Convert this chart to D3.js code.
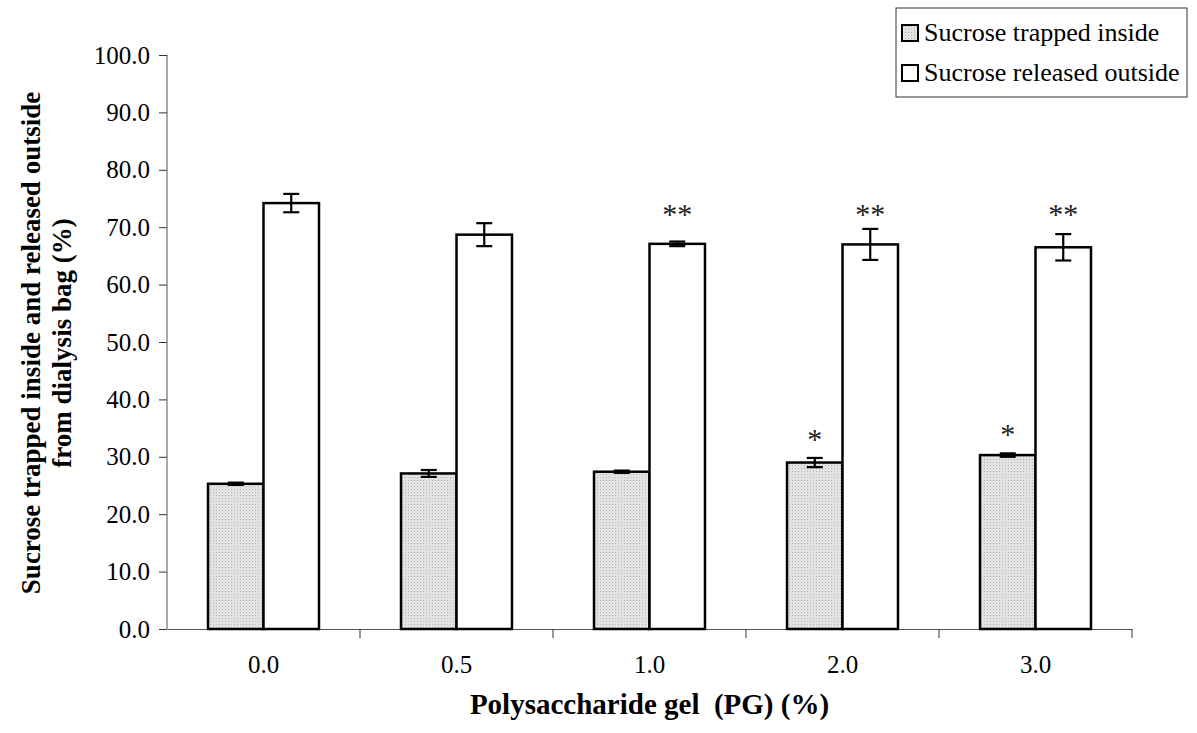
<!DOCTYPE html>
<html>
<head>
<meta charset="utf-8">
<script src="https://cdn.jsdelivr.net/npm/d3@7"></script>
<style>
  body { margin: 0; background: #fff; }
  text { font-family: "Liberation Serif", "Times New Roman", serif; fill: #000; }
</style>
</head>
<body>
<div class="chart"></div>
<script>
"use strict";

const categories = ["0.0", "0.5", "1.0", "2.0", "3.0"];
const seriesNames = ["Sucrose trapped inside", "Sucrose released outside"];
const trapped = [25.3, 27.1, 27.4, 29.0, 30.3];
const trappedErr = [0.2, 0.6, 0.2, 0.8, 0.3];
const released = [74.2, 68.7, 67.1, 67.0, 66.5];
const releasedErr = [1.6, 2.0, 0.4, 2.7, 2.3];
const trappedSig = ["", "", "", "*", "*"];
const releasedSig = ["", "", "**", "**", "**"];
const yTicks = [0, 10, 20, 30, 40, 50, 60, 70, 80, 90, 100];

const width = 1197;
const height = 733;
const margin = { top: 55, right: 65, bottom: 104, left: 167 };

const svg = d3
  .select(".chart")
  .append("svg")
  .attr("width", width)
  .attr("height", height);

// stippled grey fill
const pat = svg
  .append("defs")
  .append("pattern")
  .attr("id", "dots")
  .attr("width", 3)
  .attr("height", 3)
  .attr("patternUnits", "userSpaceOnUse");
pat.append("rect").attr("width", 3).attr("height", 3).attr("fill", "#e2e2e2");
pat.append("rect").attr("width", 1).attr("height", 1).attr("fill", "#b5b5b5");

const x = d3
  .scaleBand()
  .domain(categories)
  .range([margin.left, width - margin.right]);

const y = d3
  .scaleLinear()
  .domain([0, 100])
  .range([height - margin.bottom, margin.top]);

const barW = x.bandwidth() * 0.2875;

const rows = categories.map((c, i) => [
  { cat: c, s: 0, v: trapped[i], e: trappedErr[i], sig: trappedSig[i] },
  { cat: c, s: 1, v: released[i], e: releasedErr[i], sig: releasedSig[i] },
]).flat();

const barX = (d) => x(d.cat) + x.bandwidth() / 2 - barW + d.s * barW;

// axes
const yAxis = svg
  .append("g")
  .attr("transform", `translate(${margin.left},0)`)
  .call(
    d3.axisLeft(y)
      .tickValues(yTicks)
      .tickSize(8)
      .tickPadding(9)
      .tickFormat(d3.format(".1f"))
  );
yAxis.select(".domain").attr("stroke", "#555").attr("d", `M0,${y(100)}V${y(0)}`);
yAxis.selectAll(".tick line").attr("stroke", "#333");
yAxis.selectAll("text").style("font-size", "25px").style("font-family", "Liberation Serif");

const xAxis = svg
  .append("g")
  .attr("transform", `translate(0,${y(0)})`)
  .call(d3.axisBottom(x).tickSize(0).tickPadding(26));
xAxis.select(".domain").attr("stroke", "#555");
xAxis.selectAll("text").style("font-size", "25px").style("font-family", "Liberation Serif");

// boundary ticks between groups
svg
  .selectAll("line.sep")
  .data(categories)
  .enter()
  .append("line")
  .attr("class", "sep")
  .attr("x1", (d) => x(d) + x.bandwidth())
  .attr("x2", (d) => x(d) + x.bandwidth())
  .attr("y1", y(0))
  .attr("y2", y(0) + 9)
  .attr("stroke", "#333");

// bars
svg
  .selectAll("rect.bar")
  .data(rows)
  .enter()
  .append("rect")
  .attr("class", "bar")
  .attr("x", barX)
  .attr("y", (d) => y(d.v))
  .attr("width", barW)
  .attr("height", (d) => y(0) - y(d.v))
  .attr("fill", (d) => (d.s === 0 ? "url(#dots)" : "#fff"))
  .attr("stroke", "#000")
  .attr("stroke-width", 2.5);

// error bars
const err = svg.append("g").attr("stroke", "#000").attr("stroke-width", 2.2);
rows.forEach((d) => {
  const cx = barX(d) + barW / 2;
  err.append("line").attr("x1", cx).attr("x2", cx).attr("y1", y(d.v + d.e)).attr("y2", y(d.v - d.e));
  err.append("line").attr("x1", cx - 8).attr("x2", cx + 8).attr("y1", y(d.v + d.e)).attr("y2", y(d.v + d.e));
  err.append("line").attr("x1", cx - 8).attr("x2", cx + 8).attr("y1", y(d.v - d.e)).attr("y2", y(d.v - d.e));
});

// significance marks
svg
  .selectAll("text.sig")
  .data(rows.filter((d) => d.sig))
  .enter()
  .append("text")
  .attr("class", "sig")
  .attr("text-anchor", "middle")
  .attr("x", (d) => barX(d) + barW / 2)
  .attr("y", (d) => (d.s === 1 ? y(73.5) + 17 : y(d.v + d.e) - 9))
  .style("font-size", "30px")
  .style("fill", "#222")
  .text((d) => d.sig);

// axis titles
svg
  .append("text")
  .attr("text-anchor", "middle")
  .attr("transform", `translate(40,${(y(0) + y(100)) / 2 + 1}) rotate(-90)`)
  .style("font-size", "27px")
  .style("font-weight", "bold")
  .selectAll("tspan")
  .data(["Sucrose trapped inside and released outside", "from dialysis bag (%)"])
  .enter()
  .append("tspan")
  .attr("x", 0)
  .attr("dy", (d, i) => (i === 0 ? 0 : 31))
  .text((d) => d);

svg
  .append("text")
  .attr("text-anchor", "middle")
  .attr("x", (margin.left + width - margin.right) / 2)
  .attr("y", 714)
  .style("font-size", "29px")
  .style("font-weight", "bold")
  .style("white-space", "pre")
  .text("Polysaccharide gel  (PG) (%)");

// legend
const leg = svg.append("g").attr("transform", "translate(896,8)");
leg.append("rect").attr("width", 291).attr("height", 89).attr("fill", "#fff").attr("stroke", "#333");
seriesNames.forEach((name, i) => {
  leg.append("rect")
    .attr("x", 6)
    .attr("y", 17 + i * 40)
    .attr("width", 16)
    .attr("height", 16)
    .attr("fill", i === 0 ? "url(#dots)" : "#fff")
    .attr("stroke", "#000")
    .attr("stroke-width", 2);
  leg.append("text")
    .attr("x", 28)
    .attr("y", 33 + i * 40)
    .style("font-size", "26px")
    .text(name);
});
</script>
</body>
</html>
